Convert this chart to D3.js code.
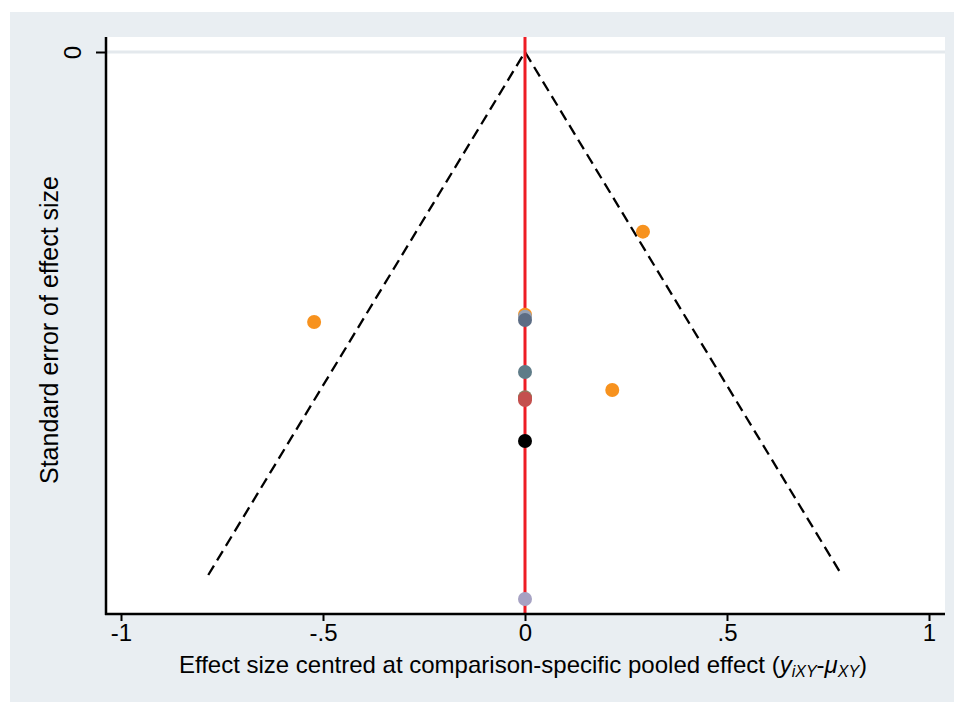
<!DOCTYPE html>
<html>
<head>
<meta charset="utf-8">
<script src="https://cdn.jsdelivr.net/npm/d3@7"></script>
<style>
  body { margin: 0; background: #ffffff; }
  text { font-family: "Liberation Sans", Arial, sans-serif; fill: #000; }
</style>
</head>
<body>
<div id="chart"></div>
<script>
// funnel plot data (effect centred at pooled effect, standard error)
let effects = [0.292, -0.522, 0.216, 0, 0, 0, 0, 0, 0, 0, 0, 0];
let stdErrs = [0.1374, 0.2065, 0.2585, 0.2010, 0.2024, 0.2050, 0.2447, 0.2640, 0.2650, 0.2662, 0.2975, 0.4184];
let colors  = ['#f7921e', '#f7921e', '#f7921e', '#f7921e', '#97a2b5', '#5c6c84',
               '#5f7c88', '#8a8262', '#c4504e', '#c4504e', '#000000', '#a6a2c3'];
let xTicks = [-1, -0.5, 0, 0.5, 1];
let xTickLabels = ['-1', '-.5', '0', '.5', '1'];
let yTicks = [0];
let seMax = 0.4;
let zCrit = 1.96;

let width = 955, height = 702;
let fontSize = 24;

let svg = d3.select('#chart')
    .append('svg')
    .attr('width', width)
    .attr('height', height);

// outer graph region
svg.append('rect')
    .attr('x', 10).attr('y', 12)
    .attr('width', 944).attr('height', 690)
    .attr('fill', '#e9eef2');

let plotLeft = 106, plotRight = 945, plotTop = 37, plotBottom = 614;

// plot region
svg.append('rect')
    .attr('x', plotLeft).attr('y', plotTop)
    .attr('width', plotRight - plotLeft).attr('height', plotBottom - plotTop)
    .attr('fill', '#ffffff');

// x(-1)=121, x(1)=929
let x = d3.scaleLinear()
    .domain([-1, 1])
    .range([121, 929]);

// se 0 at 52, se 0.4 at 575 (axis reversed, grows downward)
let y = d3.scaleLinear()
    .domain([0, seMax])
    .range([52, 575]);

// gridline at 0
svg.selectAll('.grid')
    .data(yTicks)
    .enter().append('line')
    .attr('x1', plotLeft).attr('x2', plotRight)
    .attr('y1', d => y(d)).attr('y2', d => y(d))
    .attr('stroke', '#e4e9ed')
    .attr('stroke-width', 3);

// pseudo confidence limits
let funnel = [[-zCrit * seMax, seMax], [0, 0], [zCrit * seMax, seMax]];
svg.append('path')
    .datum(funnel)
    .attr('d', d3.line().x(d => x(d[0])).y(d => y(d[1])))
    .attr('fill', 'none')
    .attr('stroke', '#000')
    .attr('stroke-width', 2.3)
    .attr('stroke-dasharray', '11,6');

// line of no effect
svg.append('line')
    .attr('x1', x(0)).attr('x2', x(0))
    .attr('y1', plotTop).attr('y2', plotBottom)
    .attr('stroke', '#ee1c25')
    .attr('stroke-width', 3);

// points
svg.selectAll('.pt')
    .data(effects)
    .enter().append('circle')
    .attr('class', 'pt')
    .attr('cx', d => x(d))
    .attr('cy', (d, i) => y(stdErrs[i]))
    .attr('r', 7)
    .attr('fill', (d, i) => colors[i]);

// x axis
let xAxis = d3.axisBottom(x)
    .tickValues(xTicks)
    .tickFormat((d, i) => xTickLabels[i])
    .tickSizeInner(7)
    .tickSizeOuter(0)
    .tickPadding(3);

let gx = svg.append('g')
    .attr('transform', 'translate(0,' + plotBottom + ')')
    .call(xAxis);
gx.select('.domain').remove();
gx.selectAll('.tick line').attr('stroke', '#000').attr('stroke-width', 2);
gx.selectAll('.tick text').attr('font-size', fontSize).attr('font-family', '"Liberation Sans", Arial, sans-serif');
gx.append('line')
    .attr('x1', plotLeft - 1).attr('x2', plotRight)
    .attr('y1', 0).attr('y2', 0)
    .attr('stroke', '#000').attr('stroke-width', 2.5);

// y axis
let yAxis = d3.axisLeft(y)
    .tickValues(yTicks)
    .tickFormat(d3.format('d'))
    .tickSizeInner(10)
    .tickSizeOuter(0);

let gy = svg.append('g')
    .attr('transform', 'translate(' + plotLeft + ',0)')
    .call(yAxis);
gy.select('.domain').remove();
gy.selectAll('.tick line').attr('stroke', '#000').attr('stroke-width', 2);
gy.selectAll('.tick text')
    .attr('font-size', fontSize)
    .attr('font-family', '"Liberation Sans", Arial, sans-serif')
    .attr('x', 0).attr('dy', 0)
    .attr('text-anchor', 'middle')
    .attr('transform', 'translate(-25,0) rotate(-90)');
gy.append('line')
    .attr('x1', 0).attr('x2', 0)
    .attr('y1', plotTop).attr('y2', plotBottom + 1)
    .attr('stroke', '#000').attr('stroke-width', 2.5);

// axis titles
svg.append('text')
    .attr('transform', 'translate(58,' + 330 + ') rotate(-90)')
    .attr('text-anchor', 'middle')
    .attr('font-size', 25)
    .text('Standard error of effect size');

let xt = svg.append('text')
    .attr('x', 523).attr('y', 673)
    .attr('text-anchor', 'middle')
    .attr('font-size', fontSize);
xt.append('tspan').text('Effect size centred at comparison-specific pooled effect (');
xt.append('tspan').attr('font-style', 'italic').text('y');
xt.append('tspan').attr('font-style', 'italic').attr('font-size', 16).attr('dy', 4).text('iXY');
xt.append('tspan').attr('dy', -4).text('-');
xt.append('tspan').attr('font-style', 'italic').text('μ');
xt.append('tspan').attr('font-style', 'italic').attr('font-size', 16).attr('dy', 4).text('XY');
xt.append('tspan').attr('dy', -4).text(')');
</script>
</body>
</html>
